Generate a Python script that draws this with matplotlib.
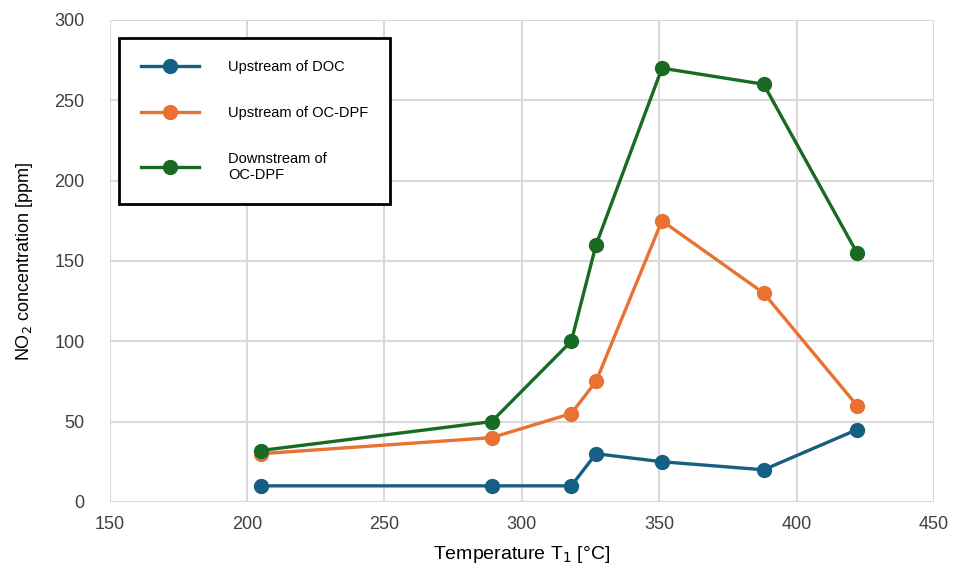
import matplotlib.pyplot as plt

plt.rcParams['font.family'] = ['Liberation Sans', 'DejaVu Sans']

temps = [205, 289, 318, 327, 351, 388, 422]
upstream_doc = [10, 10, 10, 30, 25, 20, 45]
upstream_dpf = [30, 40, 55, 75, 175, 130, 60]
downstream_dpf = [32, 50, 100, 160, 270, 260, 155]

labels = ["Upstream of DOC", "Upstream of OC-DPF", "Downstream of\nOC-DPF"]
colors = ["#156082", "#E97132", "#196B24"]

fig = plt.figure(figsize=(9.54, 5.71), dpi=100)
ax = fig.add_axes([0.115, 0.121, 0.864, 0.844])

for ys, lab, c in zip([upstream_doc, upstream_dpf, downstream_dpf], labels, colors):
    ax.plot(temps, ys, color=c, lw=2.4, marker="o", ms=10, label=lab)

ax.set_xlim(150, 450)
ax.set_ylim(0, 300)
ax.set_xticks(range(150, 451, 50))
ax.set_yticks(range(0, 301, 50))
ax.grid(True, color="#d9d9d9", lw=1.5)
ax.set_axisbelow(True)
for s in ax.spines.values():
    s.set_visible(False)
ax.tick_params(length=0, labelsize=13, colors="#404040")
ax.tick_params(axis="y", pad=18)
ax.tick_params(axis="x", pad=10)

ax.set_xlabel("Temperature T$_1$ [°C]", fontsize=14, labelpad=8)
ax.set_ylabel("NO$_2$ concentration [ppm]", fontsize=13, labelpad=14)

leg = ax.legend(loc="upper left", bbox_to_anchor=(0.011, 0.963), fontsize=10.5,
                frameon=True, fancybox=False, edgecolor="black", framealpha=1,
                handlelength=4.0, handletextpad=2.0, labelspacing=2.2,
                borderpad=1.5, borderaxespad=0)
leg.get_frame().set_linewidth(2)

fig.savefig("out.png", dpi=100)
